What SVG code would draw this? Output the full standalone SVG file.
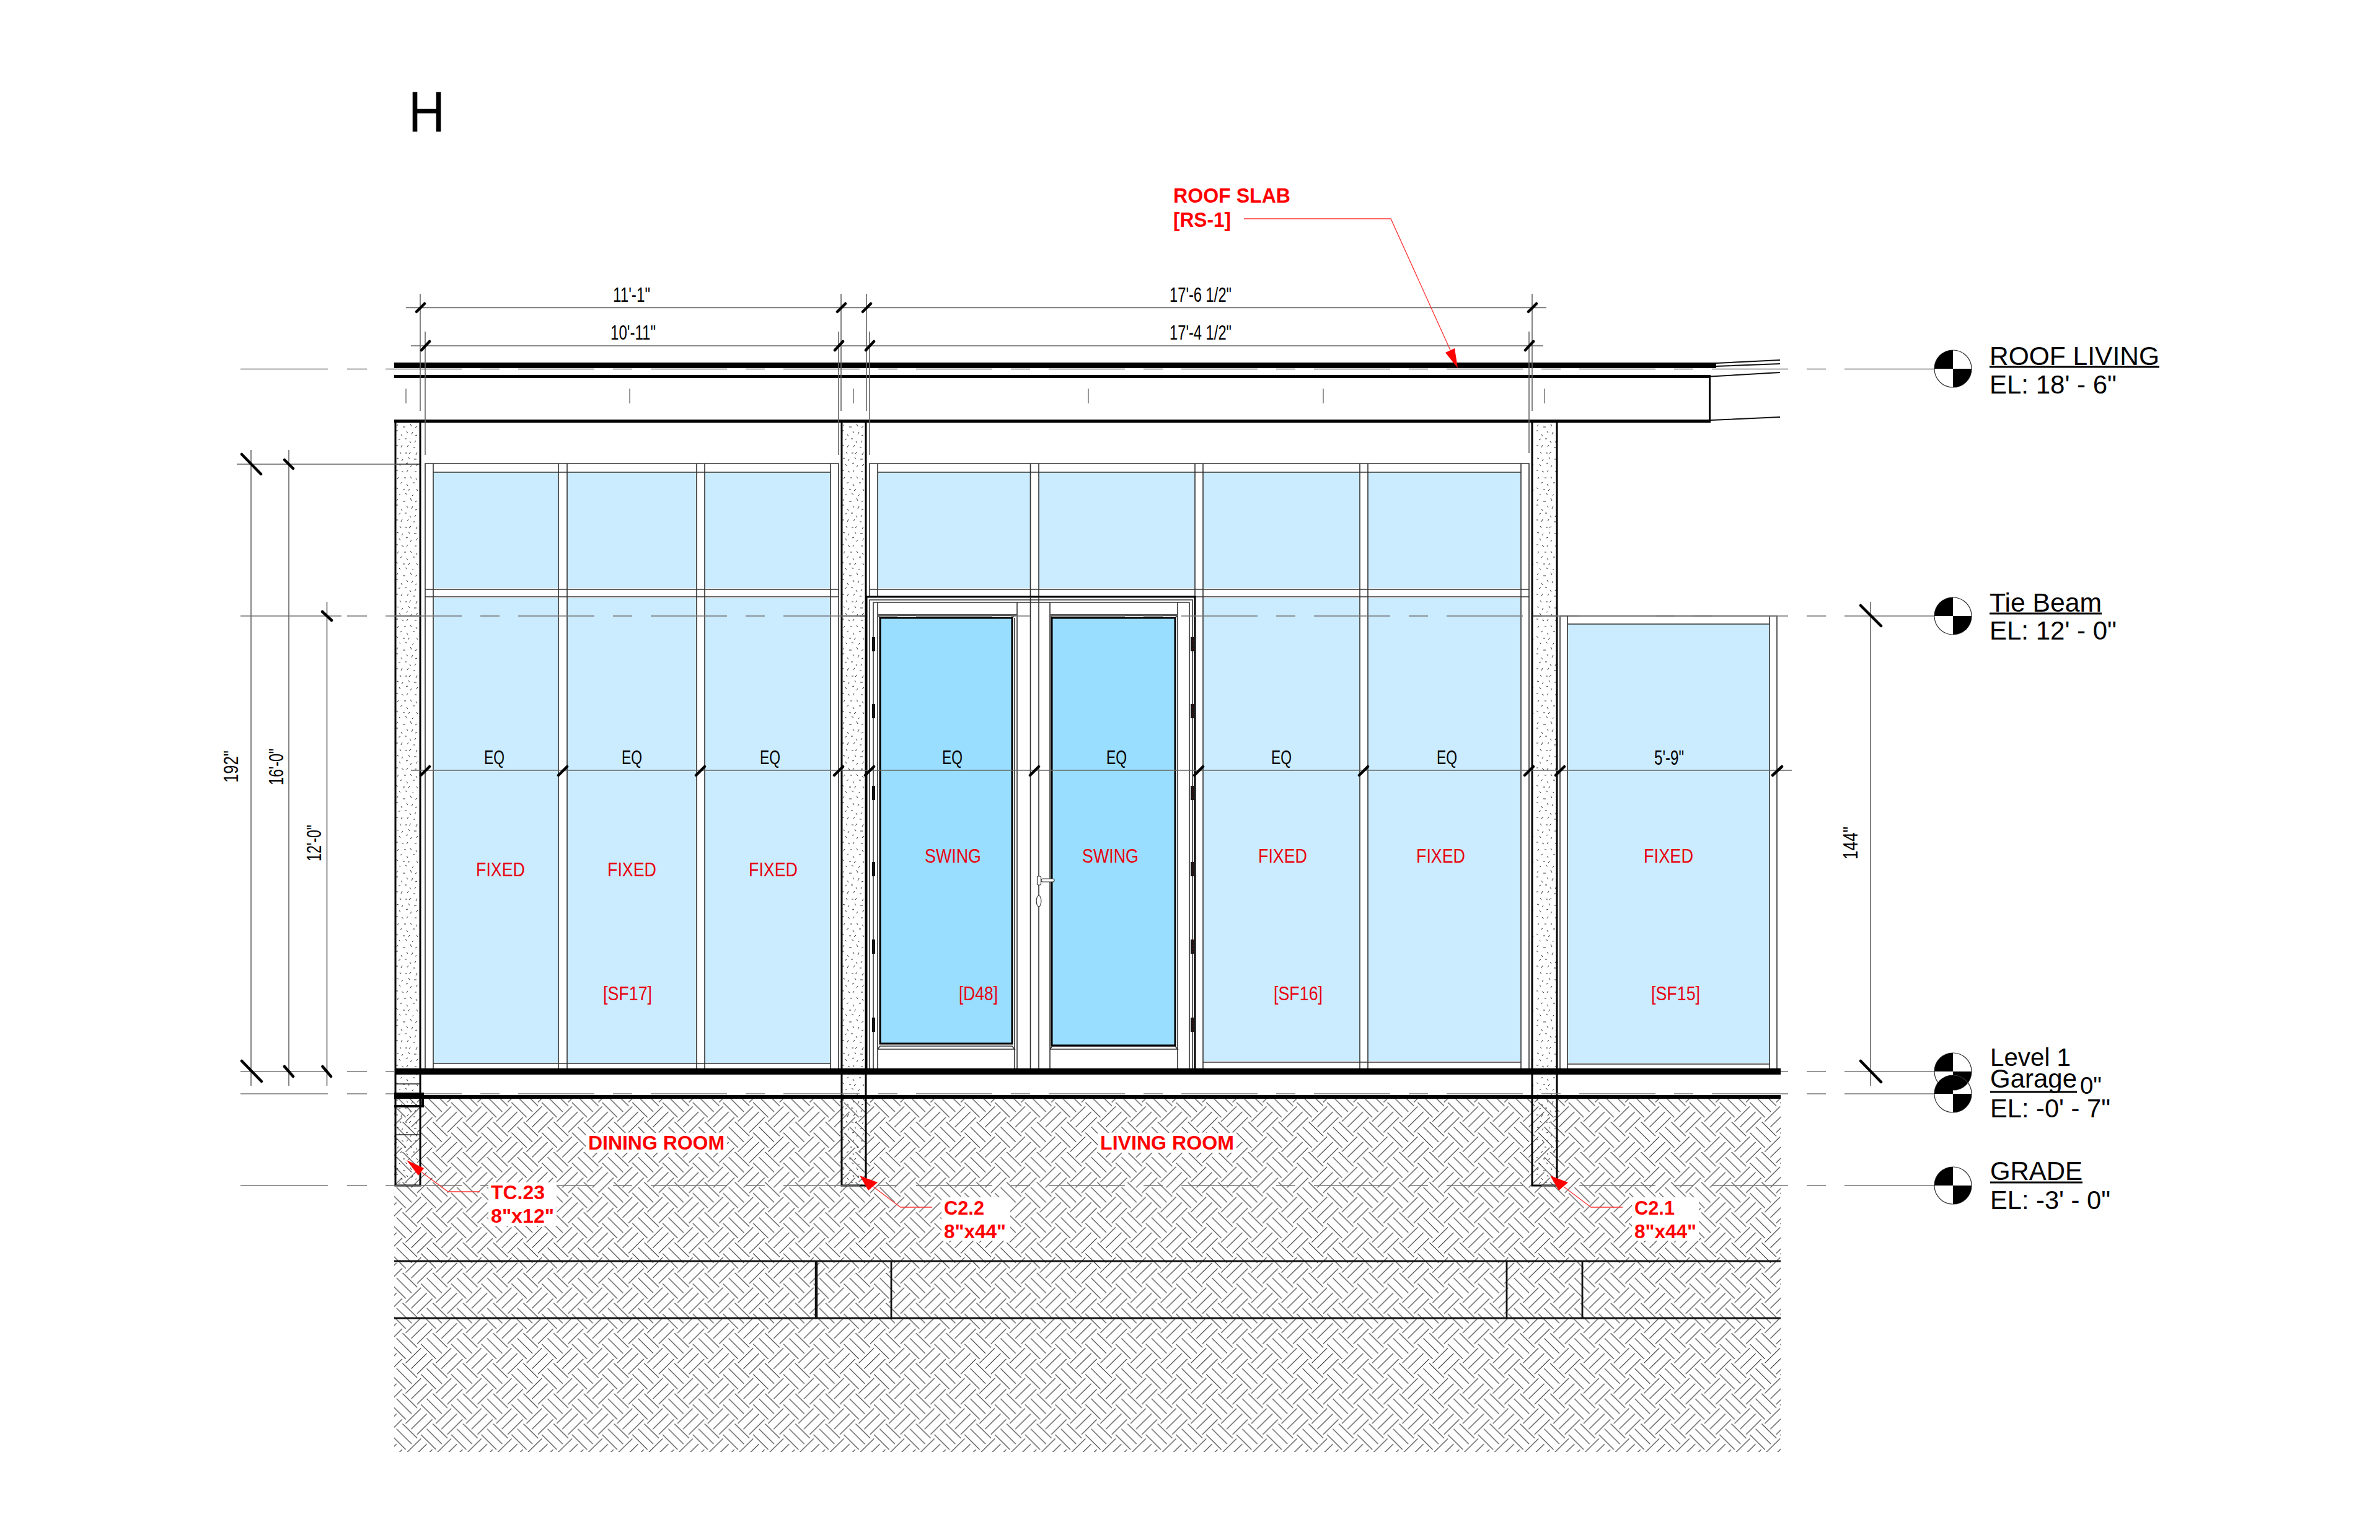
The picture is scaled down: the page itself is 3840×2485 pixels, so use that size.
<svg xmlns="http://www.w3.org/2000/svg" xmlns:xlink="http://www.w3.org/1999/xlink" width="3840" height="2485" viewBox="0 0 3840 2485">
<style>
text{font-family:"Liberation Sans",Arial,sans-serif;font-size:33px;fill:#000}
.lb{font-size:42px}
.r{fill:#e8000f;font-size:31px}
.rb{fill:#f00;font-size:31px;font-weight:bold}
.lvl{stroke:#777;stroke-width:1.7;fill:none;stroke-dasharray:123 30 31 30}
.lv0{stroke:#777;stroke-width:1.7;fill:none}
.dim{stroke:#666;stroke-width:1.6;fill:none}
.tk{stroke:#000;stroke-width:4.5;stroke-linecap:round;fill:none}
.th{stroke:#333;stroke-width:1.6;fill:none}
.k{stroke:#000;stroke-width:3;fill:none}
.ld{stroke:#f33;stroke-width:1.3;fill:none}
.g1{fill:#cbecff}
.g2{fill:#99ddff;stroke:#000;stroke-width:3}
.hg{fill:#111}
.hd{stroke:#a00;stroke-width:1;stroke-dasharray:1.5 3;fill:none}
.ul{stroke:#000;stroke-width:3}
</style>
<defs>
<pattern id="hatch" patternUnits="userSpaceOnUse" x="1225" y="2200" width="48.73" height="48.73">
<g id="hx"><path d="M48.3 8.3L72.7 32.7M57.3-.7L81.7 23.3M39 17.5L63.3 41.7M14.3 48.3L39 24M23.3 57.3L48.3 32.7M32.7 66L57.3 41.7" stroke="#2a2a2a" stroke-width="1.1" fill="none"/></g>
<use xlink:href="#hx" href="#hx" x="-48.73"/><use xlink:href="#hx" href="#hx" y="-48.73"/><use xlink:href="#hx" href="#hx" x="-48.73" y="-48.73"/><use xlink:href="#hx" href="#hx" y="48.73"/>
</pattern>
<pattern id="spk" patternUnits="userSpaceOnUse" x="637" y="681" width="40" height="120">
<path d="M5 4l-2 3M13 8h4M25 3l2 4M33 9l3-2M2 14h3M19 15l2 3M29 16l-2 4M10 20l2 3M36 21l-3 1M6 29l3-2M16 27h3M24 31l2 3M34 30l-2 3M2 38h3M12 37l-2 4M20 40l2-3M30 41h3M8 48l2 3M17 50h3M26 48l-3 3M36 49l-2 4M3 58l3 1M13 60l-2 3M22 57l2 3M31 60h4M7 68l2 3M18 67l3-1M27 70l-2 3M37 68l-3 3M2 78h3M11 79l3 2M21 78l-2 3M32 80h3M6 89l-2 3M15 90h3M25 88l2 3M34 91l2 3M9 99l3-2M19 100l2 3M29 98h3M2 106l3 2M13 109h3M24 108l-3 3M35 108l2 3M7 116l2 2M17 115l3 2M30 117l-2 2" stroke="#333" stroke-width="1" fill="none"/>
</pattern>
<g id="lvlmark">
<circle r="30" fill="none" stroke="#333" stroke-width="1.2"/>
<path d="M0 0V-30A30 30 0 0 0-30 0ZM0 0V30A30 30 0 0 0 30 0Z" fill="#000"/>
</g>
</defs>
<rect width="3840" height="2485" fill="#fff"/>

<g id="title"><text x="659" y="213" style="font-size:92px" textLength="59" lengthAdjust="spacingAndGlyphs">H</text></g>

<g id="ground">
<rect x="636" y="1773" width="2237" height="570" fill="url(#hatch)"/>
<path d="M636 2035H2873M636 2127H2873M1438 2035V2127M2431 2035V2127M2553 2035V2127" stroke="#111" stroke-width="2.8" fill="none"/>
<path d="M1317 2035V2127" stroke="#111" stroke-width="4.5"/>
</g>

<g id="glazing-sf17">
<rect class="g1" x="699" y="762" width="202" height="187"/><rect class="g1" x="915" y="762" width="209" height="187"/><rect class="g1" x="1137" y="762" width="203" height="187"/>
<rect class="g1" x="699" y="965" width="202" height="750"/><rect class="g1" x="915" y="965" width="209" height="750"/><rect class="g1" x="1137" y="965" width="203" height="750"/>
<path class="th" d="M686 1724V748H1353V1724M699 748V1724M901 748V1724M915 748V1724M1124 748V1724M1137 748V1724M1340 748V1724M699 762H1340M686 951H1353M686 963H1353M699 1716H1340"/>
</g>
<g id="glazing-sf16">
<rect class="g1" x="1416" y="762" width="246" height="187"/><rect class="g1" x="1676" y="762" width="252" height="187"/><rect class="g1" x="1941" y="762" width="253" height="187"/><rect class="g1" x="2207" y="762" width="247" height="187"/>
<rect class="g1" x="1941" y="965" width="253" height="747"/><rect class="g1" x="2207" y="965" width="247" height="747"/>
<path class="th" d="M1403 963V748H2467V1724M1416 748V963M1662.5 748V963M1676 748V963M1928 748V963M1941 748V1724M2194 748V1724M2207 748V1724M2454 748V1724M1416 762H2454M1403 951H2467M1403 963H2467M1941 1714H2454"/>
</g>
<g id="glazing-sf15">
<rect class="g1" x="2529" y="1007" width="326" height="708"/>
<path class="th" d="M2517 1724V994H2867V1724M2529 994V1724M2855 994V1724M2529 1007H2855M2529 1717H2855"/>
</g>
<g id="door-d48">
<path class="k" d="M1398 1724V963H1928V1724"/>
<path class="th" d="M1403 1724V968H1924V1724M1409 1724V972H1919M1416 1724V972M1641 1724V972M1637 1724V997M1662.5 963V1724M1676 963V1724M1694 1724V972M1900 1724V972M1919 972V1724M1416 993L1420 997M1637 993L1633 997M1694 993L1698 997M1900 993L1896 997M1416 1693H1637L1633 1688H1420L1416 1693M1694 1693H1900L1896 1688H1698L1694 1693"/>
<path d="M1416 992.500H1641M1694 992.500H1900" stroke="#555" stroke-width="3"/>
<rect class="g2" x="1420" y="997" width="213" height="687"/>
<rect class="g2" x="1697" y="997" width="199" height="690"/>
<g class="hg">
<rect x="1407" y="1028" width="5" height="23"/><rect x="1407" y="1136" width="5" height="23"/><rect x="1407" y="1268" width="5" height="23"/><rect x="1407" y="1391" width="5" height="23"/><rect x="1407" y="1516" width="5" height="23"/><rect x="1407" y="1642" width="5" height="23"/>
<rect x="1921" y="1028" width="5" height="23"/><rect x="1921" y="1136" width="5" height="23"/><rect x="1921" y="1268" width="5" height="23"/><rect x="1921" y="1391" width="5" height="23"/><rect x="1921" y="1516" width="5" height="23"/><rect x="1921" y="1642" width="5" height="23"/>
</g>
<path class="hd" d="M1923.500 1028V1051M1923.500 1136V1159M1923.500 1268V1291M1923.500 1391V1414M1923.500 1516V1539M1923.500 1642V1665"/>
<g fill="#fff" stroke="#333" stroke-width="1.2">
<rect x="1680" y="1418" width="21" height="5" rx="2.500"/>
<rect x="1673.500" y="1414" width="6" height="14" rx="1.500"/>
<ellipse cx="1676" cy="1454" rx="3.800" ry="9"/>
</g>
</g>

<g id="columns">
<rect x="637" y="681" width="41" height="1232" fill="url(#spk)"/>
<rect x="1357" y="681" width="40" height="1232" fill="url(#spk)"/>
<rect x="2472" y="681" width="40" height="1232" fill="url(#spk)"/>
<path class="k" d="M638 681V1913H678V681M1358 681V1913H1397V681M2472 681V1913H2512V681"/>
<path d="M638 749H678M638 994H678M1358 994H1397M2472 994H2512M638 1749H678M638 1831H678" stroke="#222" stroke-width="1.600" fill="none"/>
</g>

<g id="levels">
<path class="lv0" d="M388 595.500H529M560 595.500H592M388 994H551M560 994H592M388 1729H529M560 1729H592M388 1765H529M560 1765H592M388 1913H529M560 1913H592"/>
<path class="lvl" d="M622 595.500H3121M622 994H3121M622 1729H3121M622 1765H3121M622 1913H3121"/>
<path class="lv0" d="M3099 595.500H3121M3099 994H3121M3099 1729H3121M3099 1765H3121M3099 1913H3121"/>
<use xlink:href="#lvlmark" href="#lvlmark" x="3151" y="595"/>
<use xlink:href="#lvlmark" href="#lvlmark" x="3151" y="994"/>
<use xlink:href="#lvlmark" href="#lvlmark" x="3151" y="1729"/>
<use xlink:href="#lvlmark" href="#lvlmark" x="3151" y="1765"/>
<use xlink:href="#lvlmark" href="#lvlmark" x="3151" y="1913"/>
<text class="lb" style="font-size:43px" x="3210" y="589" textLength="274" lengthAdjust="spacingAndGlyphs">ROOF LIVING</text>
<line class="ul" x1="3210" y1="592" x2="3484" y2="592"/>
<text class="lb" x="3210" y="635" textLength="205" lengthAdjust="spacingAndGlyphs">EL: 18' - 6"</text>
<text class="lb" x="3210" y="987" textLength="181" lengthAdjust="spacingAndGlyphs">Tie Beam</text>
<line class="ul" x1="3210" y1="990" x2="3391" y2="990"/>
<text class="lb" x="3210" y="1032" textLength="205" lengthAdjust="spacingAndGlyphs">EL: 12' - 0"</text>
<text class="lb" style="font-size:41px" x="3211" y="1720" textLength="130" lengthAdjust="spacingAndGlyphs">Level 1</text>
<text class="lb" x="3211" y="1755" textLength="140" lengthAdjust="spacingAndGlyphs">Garage</text>
<line class="ul" x1="3211" y1="1762" x2="3351" y2="1762"/>
<text class="lb" style="font-size:38px" x="3356" y="1765" textLength="35" lengthAdjust="spacingAndGlyphs">0"</text>
<text class="lb" x="3211" y="1803" textLength="194" lengthAdjust="spacingAndGlyphs">EL: -0' - 7"</text>
<text class="lb" x="3211" y="1904" textLength="149" lengthAdjust="spacingAndGlyphs">GRADE</text>
<line class="ul" x1="3211" y1="1908" x2="3360" y2="1908"/>
<text class="lb" x="3211" y="1951" textLength="194" lengthAdjust="spacingAndGlyphs">EL: -3' - 0"</text>
</g>

<g id="slabs">
<rect x="636" y="585" width="2133" height="9" fill="#000"/>
<rect x="636" y="605" width="2124" height="5" fill="#000"/>
<rect x="636" y="677" width="2124" height="5" fill="#000"/>
<path class="k" d="M2758.500 610V681"/>
<path d="M2769 586L2872 581M2769 591L2872 587M2760 607.500L2872 601M2760 678L2872 673" stroke="#111" stroke-width="2" fill="none"/>
<rect x="637" y="1724" width="2236" height="10" fill="#000"/>
<rect x="637" y="1767" width="2236" height="6" fill="#000"/>
<rect x="636" y="1763" width="48" height="10" fill="#000"/>
<rect x="636" y="1783" width="48" height="4" fill="#000"/>
<path d="M682 1763V1787" stroke="#000" stroke-width="4"/>
<path d="M655 627V651M1016 627V651M1377 627V651M1756 627V651M2135 627V651M2492 627V651" stroke="#777" stroke-width="1.500"/>
</g>

<g id="connectors">
<path class="dim" d="M655 496.500H2495M663 558H2490M678 474V663M1357 474V663M1398 474V663M2472 474V663M686 535V734M1353 535V734M1403 535V734M2467 535V731"/>
<path class="dim" d="M663 1243H2891M382 749H671M405 726V1752M466 726V1752M527.500 971V1752M3018 971V1752"/>
<path class="tk" d="M672 503L685 490M1351 503L1364 490M1392 503L1405 490M2466 503L2479 490M680 565L693 551M1347 565L1360 551M1397 565L1410 551M2461 565L2474 551"/>
<path class="tk" d="M679 1251L693 1237M901 1251L915 1237M1123 1251L1137 1237M1346 1251L1360 1237M1396 1251L1410 1237M1662 1251L1676 1237M1927 1251L1941 1237M2193 1251L2207 1237M2460 1251L2474 1237M2510 1251L2524 1237M2860 1251L2875 1237"/>
<path class="tk" d="M390 733L421 765M459 742L473 756M520 987L535 1001M3002 977L3035 1010M390 1712L422 1745M459 1721L473 1737M520.500 1721L534 1737M3002 1712L3035 1746"/>
</g>

<g id="dimension-labels">
<text x="989" y="487" textLength="60" lengthAdjust="spacingAndGlyphs">11'-1"</text>
<text x="985" y="548" textLength="73" lengthAdjust="spacingAndGlyphs">10'-11"</text>
<text x="1887" y="487" textLength="100" lengthAdjust="spacingAndGlyphs">17'-6 1/2"</text>
<text x="1887" y="548" textLength="100" lengthAdjust="spacingAndGlyphs">17'-4 1/2"</text>
<g>
<text x="781" y="1233" style="font-size:31px" textLength="33" lengthAdjust="spacingAndGlyphs">EQ</text>
<text x="1003" y="1233" style="font-size:31px" textLength="33" lengthAdjust="spacingAndGlyphs">EQ</text>
<text x="1226" y="1233" style="font-size:31px" textLength="33" lengthAdjust="spacingAndGlyphs">EQ</text>
<text x="1520" y="1233" style="font-size:31px" textLength="33" lengthAdjust="spacingAndGlyphs">EQ</text>
<text x="1785" y="1233" style="font-size:31px" textLength="33" lengthAdjust="spacingAndGlyphs">EQ</text>
<text x="2051" y="1233" style="font-size:31px" textLength="33" lengthAdjust="spacingAndGlyphs">EQ</text>
<text x="2318" y="1233" style="font-size:31px" textLength="33" lengthAdjust="spacingAndGlyphs">EQ</text>
<text x="2669" y="1234" textLength="48" lengthAdjust="spacingAndGlyphs">5'-9"</text>
</g>
<text transform="rotate(-90 384 1263)" x="384" y="1263" textLength="52" lengthAdjust="spacingAndGlyphs">192"</text>
<text transform="rotate(-90 457 1267)" x="457" y="1267" textLength="59" lengthAdjust="spacingAndGlyphs">16'-0"</text>
<text transform="rotate(-90 518 1390)" x="518" y="1390" textLength="59" lengthAdjust="spacingAndGlyphs">12'-0"</text>
<text transform="rotate(-90 2997 1387)" x="2997" y="1387" textLength="53" lengthAdjust="spacingAndGlyphs">144"</text>
</g>

<g id="window-labels">
<text class="r" x="768" y="1414" textLength="79" lengthAdjust="spacingAndGlyphs">FIXED</text>
<text class="r" x="980" y="1414" textLength="79" lengthAdjust="spacingAndGlyphs">FIXED</text>
<text class="r" x="1208" y="1414" textLength="79" lengthAdjust="spacingAndGlyphs">FIXED</text>
<text class="r" x="1492" y="1392" textLength="91" lengthAdjust="spacingAndGlyphs">SWING</text>
<text class="r" x="1746" y="1392" textLength="91" lengthAdjust="spacingAndGlyphs">SWING</text>
<text class="r" x="2030" y="1392" textLength="79" lengthAdjust="spacingAndGlyphs">FIXED</text>
<text class="r" x="2285" y="1392" textLength="79" lengthAdjust="spacingAndGlyphs">FIXED</text>
<text class="r" x="2652" y="1392" textLength="80" lengthAdjust="spacingAndGlyphs">FIXED</text>
<text class="r" x="973" y="1614" textLength="79" lengthAdjust="spacingAndGlyphs">[SF17]</text>
<text class="r" x="1547" y="1614" textLength="63" lengthAdjust="spacingAndGlyphs">[D48]</text>
<text class="r" x="2055" y="1614" textLength="79" lengthAdjust="spacingAndGlyphs">[SF16]</text>
<text class="r" x="2664" y="1614" textLength="79" lengthAdjust="spacingAndGlyphs">[SF15]</text>
</g>

<g id="annotations">
<g fill="#fff">
<rect x="945" y="1828" width="228" height="32"/><rect x="1771" y="1828" width="224" height="32"/>
<rect x="788" y="1908" width="110" height="70"/><rect x="1519" y="1932" width="111" height="70"/><rect x="2633" y="1932" width="108" height="70"/>
</g>
<text class="rb" x="949" y="1855" textLength="220" lengthAdjust="spacingAndGlyphs">DINING ROOM</text>
<text class="rb" x="1775" y="1855" textLength="216" lengthAdjust="spacingAndGlyphs">LIVING ROOM</text>
<text class="rb" x="792" y="1935" textLength="87" lengthAdjust="spacingAndGlyphs">TC.23</text>
<text class="rb" x="792" y="1973" textLength="102" lengthAdjust="spacingAndGlyphs">8"x12"</text>
<text class="rb" x="1523" y="1960" textLength="65" lengthAdjust="spacingAndGlyphs">C2.2</text>
<text class="rb" x="1523" y="1998" textLength="100" lengthAdjust="spacingAndGlyphs">8"x44"</text>
<text class="rb" x="2637" y="1960" textLength="65" lengthAdjust="spacingAndGlyphs">C2.1</text>
<text class="rb" x="2637" y="1998" textLength="100" lengthAdjust="spacingAndGlyphs">8"x44"</text>
<text class="rb" style="font-size:33px" x="1893" y="327" textLength="189" lengthAdjust="spacingAndGlyphs">ROOF SLAB</text>
<text class="rb" style="font-size:33px" x="1893" y="366" textLength="93" lengthAdjust="spacingAndGlyphs">[RS-1]</text>
<path class="ld" d="M2007 353H2244L2340 565M681 1892L723 1923H774M1409 1915L1453 1948H1504M2523 1915L2567 1948H2618"/>
<path fill="#f00" d="M2352 594L2332 569L2347 562ZM656 1872L684 1885L675 1897ZM1387 1897L1416 1908L1401 1921ZM2501 1897L2530 1908L2515 1921Z"/>
</g>
</svg>
